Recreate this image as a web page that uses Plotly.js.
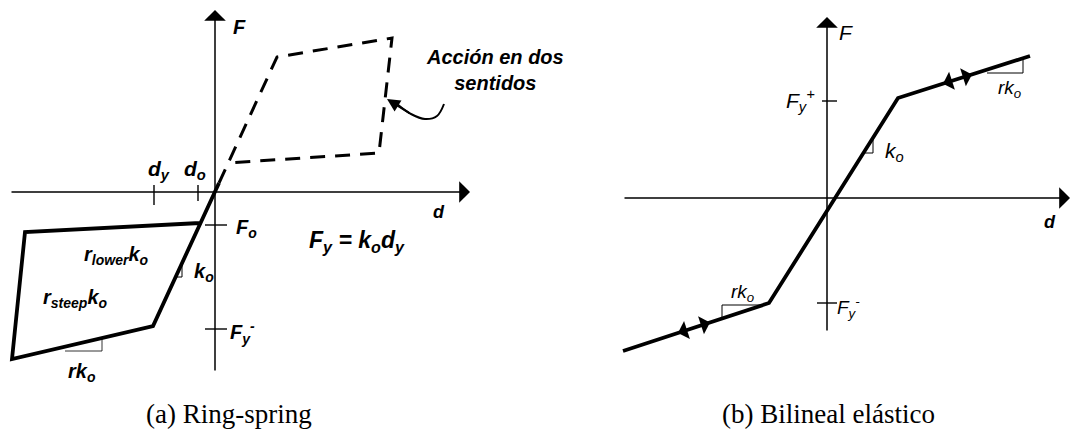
<!DOCTYPE html>
<html>
<head>
<meta charset="utf-8">
<script src="https://cdn.plot.ly/plotly-3.0.1.min.js"></script>
<style>
  html, body { margin: 0; padding: 0; background: #fff; }
  #plot { width: 1071px; height: 432px; }
</style>
</head>
<body>
<div id="plot"></div>
<script>
// units are chosen so the axis crossing of each panel is (0, 0)

// (a) ring-spring
let axisAX = [-205, 255]        // horizontal axis, tail to head
let axisAY = [-180, 182]        // vertical axis, tail to head
let loopX = [-15, -190, -203, -62, 4]     // solid loop (negative side)
let loopY = [-31, -40, -167, -134, 9]
let dashX = [4, 62, 177, 164, 12]         // dashed loop (both directions)
let dashY = [9, 135, 154, 39, 29]
let tickDX = [-61, -17]          // d_y, d_o
let tickDTop = [7, 7]
let tickDBot = [-13, -9]
let tickFY = [-33, -137]         // F_o, F_y-
let triA1X = [-39, -33, -33]     // k_o slope mark
let triA1Y = [-85, -85, -71]
let triA2X = [-150, -113, -113]  // rk_o slope mark
let triA2Y = [-159, -159, -146]
let curlX = [229, 222, 210, 196, 182]     // pointer to the dashed loop
let curlY = [88, 76, 73, 78, 88]

// (b) bilineal elastico
let axisBX = [-204, 243]
let axisBY = [-134, 181]
let bilinX = [-204, -58, 71, 203]
let bilinY = [-153, -105, 100, 142]
let tickBY = [97, -105]          // F_y+, F_y-
let tickBL = [-5, -10]
let triB1X = [36, 46, 46]        // k_o
let triB1Y = [45, 45, 59]
let triB2X = [160, 196, 196]     // rk_o upper
let triB2Y = [125, 125, 139]
let triB3X = [-64, -105, -105]   // rk_o lower
let triB3Y = [-107, -107, -120]
// back-and-forth arrows on the yielding branches: [head x, head y, tail x, tail y]
let branchArrows = [
  [116, 114.3, 130, 118.8],
  [145, 123.5, 131, 119.1],
  [-149, -134.9, -134, -130.0],
  [-117, -124.4, -132, -129.3]
]

let black = '#000'

function line(x, y, ax, w, dash) {
  return {
    x: x, y: y, xaxis: ax[0], yaxis: ax[1],
    mode: 'lines', hoverinfo: 'skip',
    line: { color: black, width: w, dash: dash || 'solid' }
  }
}

let A = ['x', 'y']
let B = ['x2', 'y2']

let data = [
  line(loopX, loopY, A, 3.8),
  line(dashX, dashY, A, 3, '15px,10px'),
  line(triA1X, triA1Y, A, 1),
  line(triA2X, triA2Y, A, 0.8),
  line(bilinX, bilinY, B, 3.8),
  line(triB1X, triB1Y, B, 1),
  line(triB2X, triB2Y, B, 1),
  line(triB3X, triB3Y, B, 1)
]

// tick marks
tickDX.forEach((x, i) => data.push(line([x, x], [tickDBot[i], tickDTop[i]], A, 1.4)))
tickFY.forEach(y => data.push(line([-10, 12], [y, y], A, 1.4)))
tickBY.forEach((y, i) => data.push(line([tickBL[i], 10], [y, y], B, 1.4)))

// curved pointer
let curl = line(curlX, curlY, A, 2)
curl.line.shape = 'spline'
data.push(curl)

function arrow(xr, yr, x, y, ax, ay, w, size, head) {
  return {
    xref: xr, yref: yr, axref: xr, ayref: yr,
    x: x, y: y, ax: ax, ay: ay, text: '',
    showarrow: true, arrowhead: head || 2, arrowsize: size, arrowwidth: w,
    arrowcolor: black
  }
}

let sans = 'Liberation Sans, Arial, sans-serif'
function label(xr, yr, x, y, text, size, anchor) {
  return {
    xref: xr, yref: yr, x: x, y: y, text: text, showarrow: false,
    xanchor: anchor || 'center', yanchor: 'middle',
    font: { family: sans, size: size || 18, color: black }
  }
}
let bi = t => '<b><i>' + t + '</i></b>'
let it = t => '<i>' + t + '</i>'

let annotations = [
  arrow('x', 'y', axisAX[1], 0, axisAX[0], 0, 1.5, 2.4, 1),
  arrow('x', 'y', 0, axisAY[1], 0, axisAY[0], 1.5, 2.4, 1),
  arrow('x2', 'y2', axisBX[1], 0, axisBX[0], 0, 1.5, 2.4, 1),
  arrow('x2', 'y2', 0, axisBY[1], 0, axisBY[0], 1.5, 2.4, 1),
  arrow('x', 'y', curlX[4] - 10, curlY[4] + 5, curlX[3], curlY[3], 2, 1.3, 2),

  label('x', 'y', 24, 165, bi('F'), 20),
  label('x', 'y', 224, -20, bi('d'), 18),
  label('x', 'y', -56, 22, bi('d<sub>y</sub>'), 21),
  label('x', 'y', -20, 22, bi('d<sub>o</sub>'), 21),
  label('x', 'y', 31, -36, bi('F<sub>o</sub>'), 20),
  label('x', 'y', 27, -140, bi('F<sub>y</sub><sup>-</sup>'), 20),
  label('x', 'y', -11, -80, bi('k<sub>o</sub>'), 20),
  label('x', 'y', -99, -63, bi('r<sub>lower</sub>k<sub>o</sub>'), 20),
  label('x', 'y', -140, -106, bi('r<sub>steep</sub>k<sub>o</sub>'), 20),
  label('x', 'y', -133, -180, bi('rk<sub>o</sub>'), 20),
  label('x', 'y', 142, -49, bi('F<sub>y</sub> = k<sub>o</sub>d<sub>y</sub>'), 23),
  label('x', 'y', 280, 122, bi('Acción en dos<br>sentidos'), 20),

  label('x2', 'y2', 19, 166, it('F'), 21),
  label('x2', 'y2', 223, -24, bi('d'), 18),
  label('x2', 'y2', -27, 98, it('F<sub>y</sub><sup>+</sup>'), 21),
  label('x2', 'y2', 67, 46, it('k<sub>o</sub>'), 21),
  label('x2', 'y2', 182, 109, it('rk<sub>o</sub>'), 19),
  label('x2', 'y2', -85, -95, it('rk<sub>o</sub>'), 19),
  label('x2', 'y2', 21, -109, it('F<sub>y</sub><sup>-</sup>'), 19),

  {
    xref: 'paper', yref: 'paper', x: 229 / 1071, y: 1 - 414 / 432,
    text: '(a) Ring-spring', showarrow: false, xanchor: 'center', yanchor: 'middle',
    font: { family: 'Liberation Serif, Times New Roman, serif', size: 27, color: black }
  },
  {
    xref: 'paper', yref: 'paper', x: 828 / 1071, y: 1 - 414 / 432,
    text: '(b) Bilineal elástico', showarrow: false, xanchor: 'center', yanchor: 'middle',
    font: { family: 'Liberation Serif, Times New Roman, serif', size: 27, color: black }
  }
]

branchArrows.forEach(a => annotations.push(arrow('x2', 'y2', a[0], a[1], a[2], a[3], 1.5, 2.1, 1)))

let hidden = { visible: false, fixedrange: true }

let layout = {
  width: 1071,
  height: 432,
  margin: { l: 0, r: 0, t: 0, b: 0 },
  paper_bgcolor: '#fff',
  plot_bgcolor: '#fff',
  showlegend: false,
  xaxis: Object.assign({ domain: [0, 540 / 1071], range: [-215, 325] }, hidden),
  yaxis: Object.assign({ domain: [0, 1], range: [-240, 192] }, hidden),
  xaxis2: Object.assign({ domain: [540 / 1071, 1], range: [-287, 244], anchor: 'y2' }, hidden),
  yaxis2: Object.assign({ domain: [0, 1], range: [-234, 198], anchor: 'x2' }, hidden),
  annotations: annotations
}

Plotly.newPlot('plot', data, layout, { staticPlot: true })
</script>
</body>
</html>
